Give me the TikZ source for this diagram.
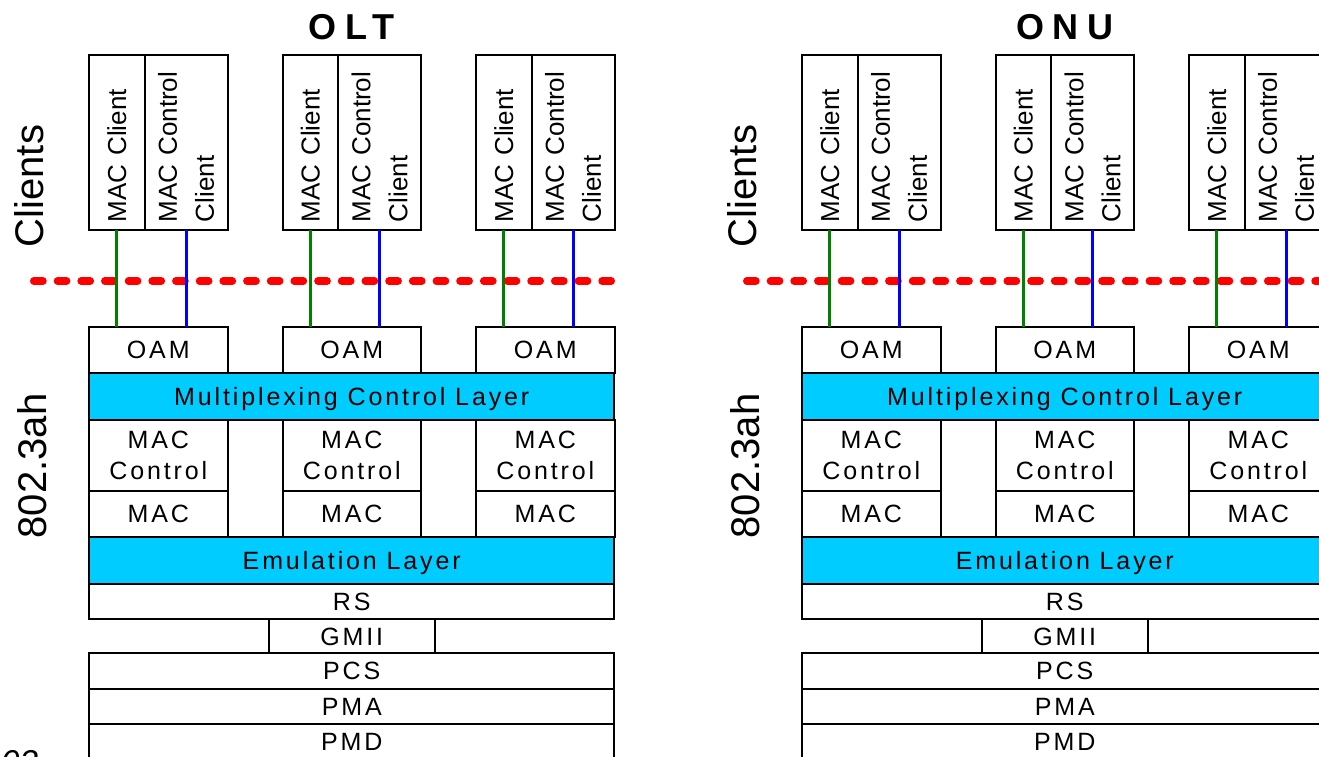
\documentclass[tikz,border=0pt]{standalone}
\usepackage{fontspec}
\setmainfont{Liberation Sans}
\newfontfamily\layerfam[LetterSpace=11.5]{Liberation Sans}
\newfontfamily\titlefam[LetterSpace=23]{Liberation Sans}
\usetikzlibrary{positioning}

\definecolor{bandcyan}{RGB}{0,204,255}
\definecolor{macgreen}{RGB}{0,128,0}

\begin{document}
\begin{tikzpicture}[
  x=1pt, y=-1pt,
  node distance=0pt,
  layerbox/.style={
    rectangle,
    draw,
    line width=2pt,
    inner sep=0pt,
    outer sep=0pt,
    align=center,
    minimum width=138.5pt,
    minimum height=46.7pt,
    font=\layerfam\fontsize{25}{31}\selectfont
  },
  wide/.style={layerbox, minimum width=525pt},
  band/.style={wide, fill=bandcyan, text depth=0pt},
  slim/.style={wide, minimum height=35.3pt},
  clientbox/.style={
    rectangle,
    draw,
    line width=2pt,
    rotate=90,
    inner xsep=8pt,
    inner ysep=0pt,
    outer sep=0pt,
    minimum width=175pt,
    text width=159pt,
    align=left,
    font=\fontsize{26}{37}\selectfont
  },
  sidelabel/.style={rotate=90, anchor=base, inner sep=0pt, font=\fontsize{40}{44}\selectfont},
  stacktitle/.style={anchor=base, inner sep=0pt, font=\titlefam\bfseries\fontsize{36}{40}\selectfont},
  cutline/.style={red, line width=7.5pt, line cap=round, dash pattern=on 9.2pt off 14.48pt},
  macline/.style={macgreen, line width=3pt},
  ctrlline/.style={blue, line width=3pt}
]

\useasboundingbox[fill=white] (0,0) rectangle (1319,757);
\clip (0,0) rectangle (1319,757);

\foreach \s/\dx/\name in {olt/0/OLT, onu/713/ONU} {
\begin{scope}[shift={(\dx,0)}]

% Titles
\node[stacktitle] (\s-title) at (351.75,39.3) {\name};
\node[sidelabel] (\s-clients) at (43.3,186) {Clients};
\node[sidelabel] (\s-std) at (46.7,466) {802.3ah};

% Boundary
\draw[cutline] (33.75,281) -- (611.3,281);

% Client columns
\foreach \c/\cx in {1/158.25, 2/351.75, 3/545.25} {
  \node[clientbox, minimum height=55.5pt] (\s-mc\c) at (\cx-41.5,142.5) {MAC Client};
  \node[clientbox, minimum height=83pt] (\s-mcc\c) at (\cx+27.75,142.5) {MAC Control\\Client};
  \node[layerbox] (\s-oam\c) at (\cx,350) {OAM};
}

% Layers (stacked top-down)
\node[band, below=of \s-oam2] (\s-mux) {Multiplexing Control Layer};
\node[layerbox, minimum height=70.7pt, below=of \s-mux] (\s-ctrl2) {MAC\\Control};
\node[layerbox, below=of \s-ctrl2] (\s-mac2) {MAC};
\node[band, below=of \s-mac2] (\s-emul) {Emulation Layer};
\node[slim, below=of \s-emul] (\s-rs) {RS};
\node[slim, minimum width=165.7pt, minimum height=34pt, below=of \s-rs] (\s-gmii) {GMII};
\node[slim, minimum height=35.7pt, below=of \s-gmii] (\s-pcs) {PCS};
\node[slim, below=of \s-pcs] (\s-pma) {PMA};
\node[slim, below=of \s-pma] (\s-pmd) {PMD};

\foreach \c in {1,3} {
  \node[layerbox, minimum height=70.7pt] (\s-ctrl\c) at (\s-oam\c |- \s-ctrl2) {MAC\\Control};
  \node[layerbox] (\s-mac\c) at (\s-oam\c |- \s-mac2) {MAC};
}

% Links
\foreach \c in {1,2,3} {
  \draw[macline] (\s-mc\c.west) -- (\s-mc\c.west |- \s-oam\c.north);
  \draw[ctrlline] (\s-mcc\c.west) -- (\s-mcc\c.west |- \s-oam\c.north);
}

\end{scope}
}

\node[anchor=base west, inner sep=0pt, font=\itshape\fontsize{33}{36}\selectfont] (pageno) at (1,773.6) {03};

\end{tikzpicture}
\end{document}
